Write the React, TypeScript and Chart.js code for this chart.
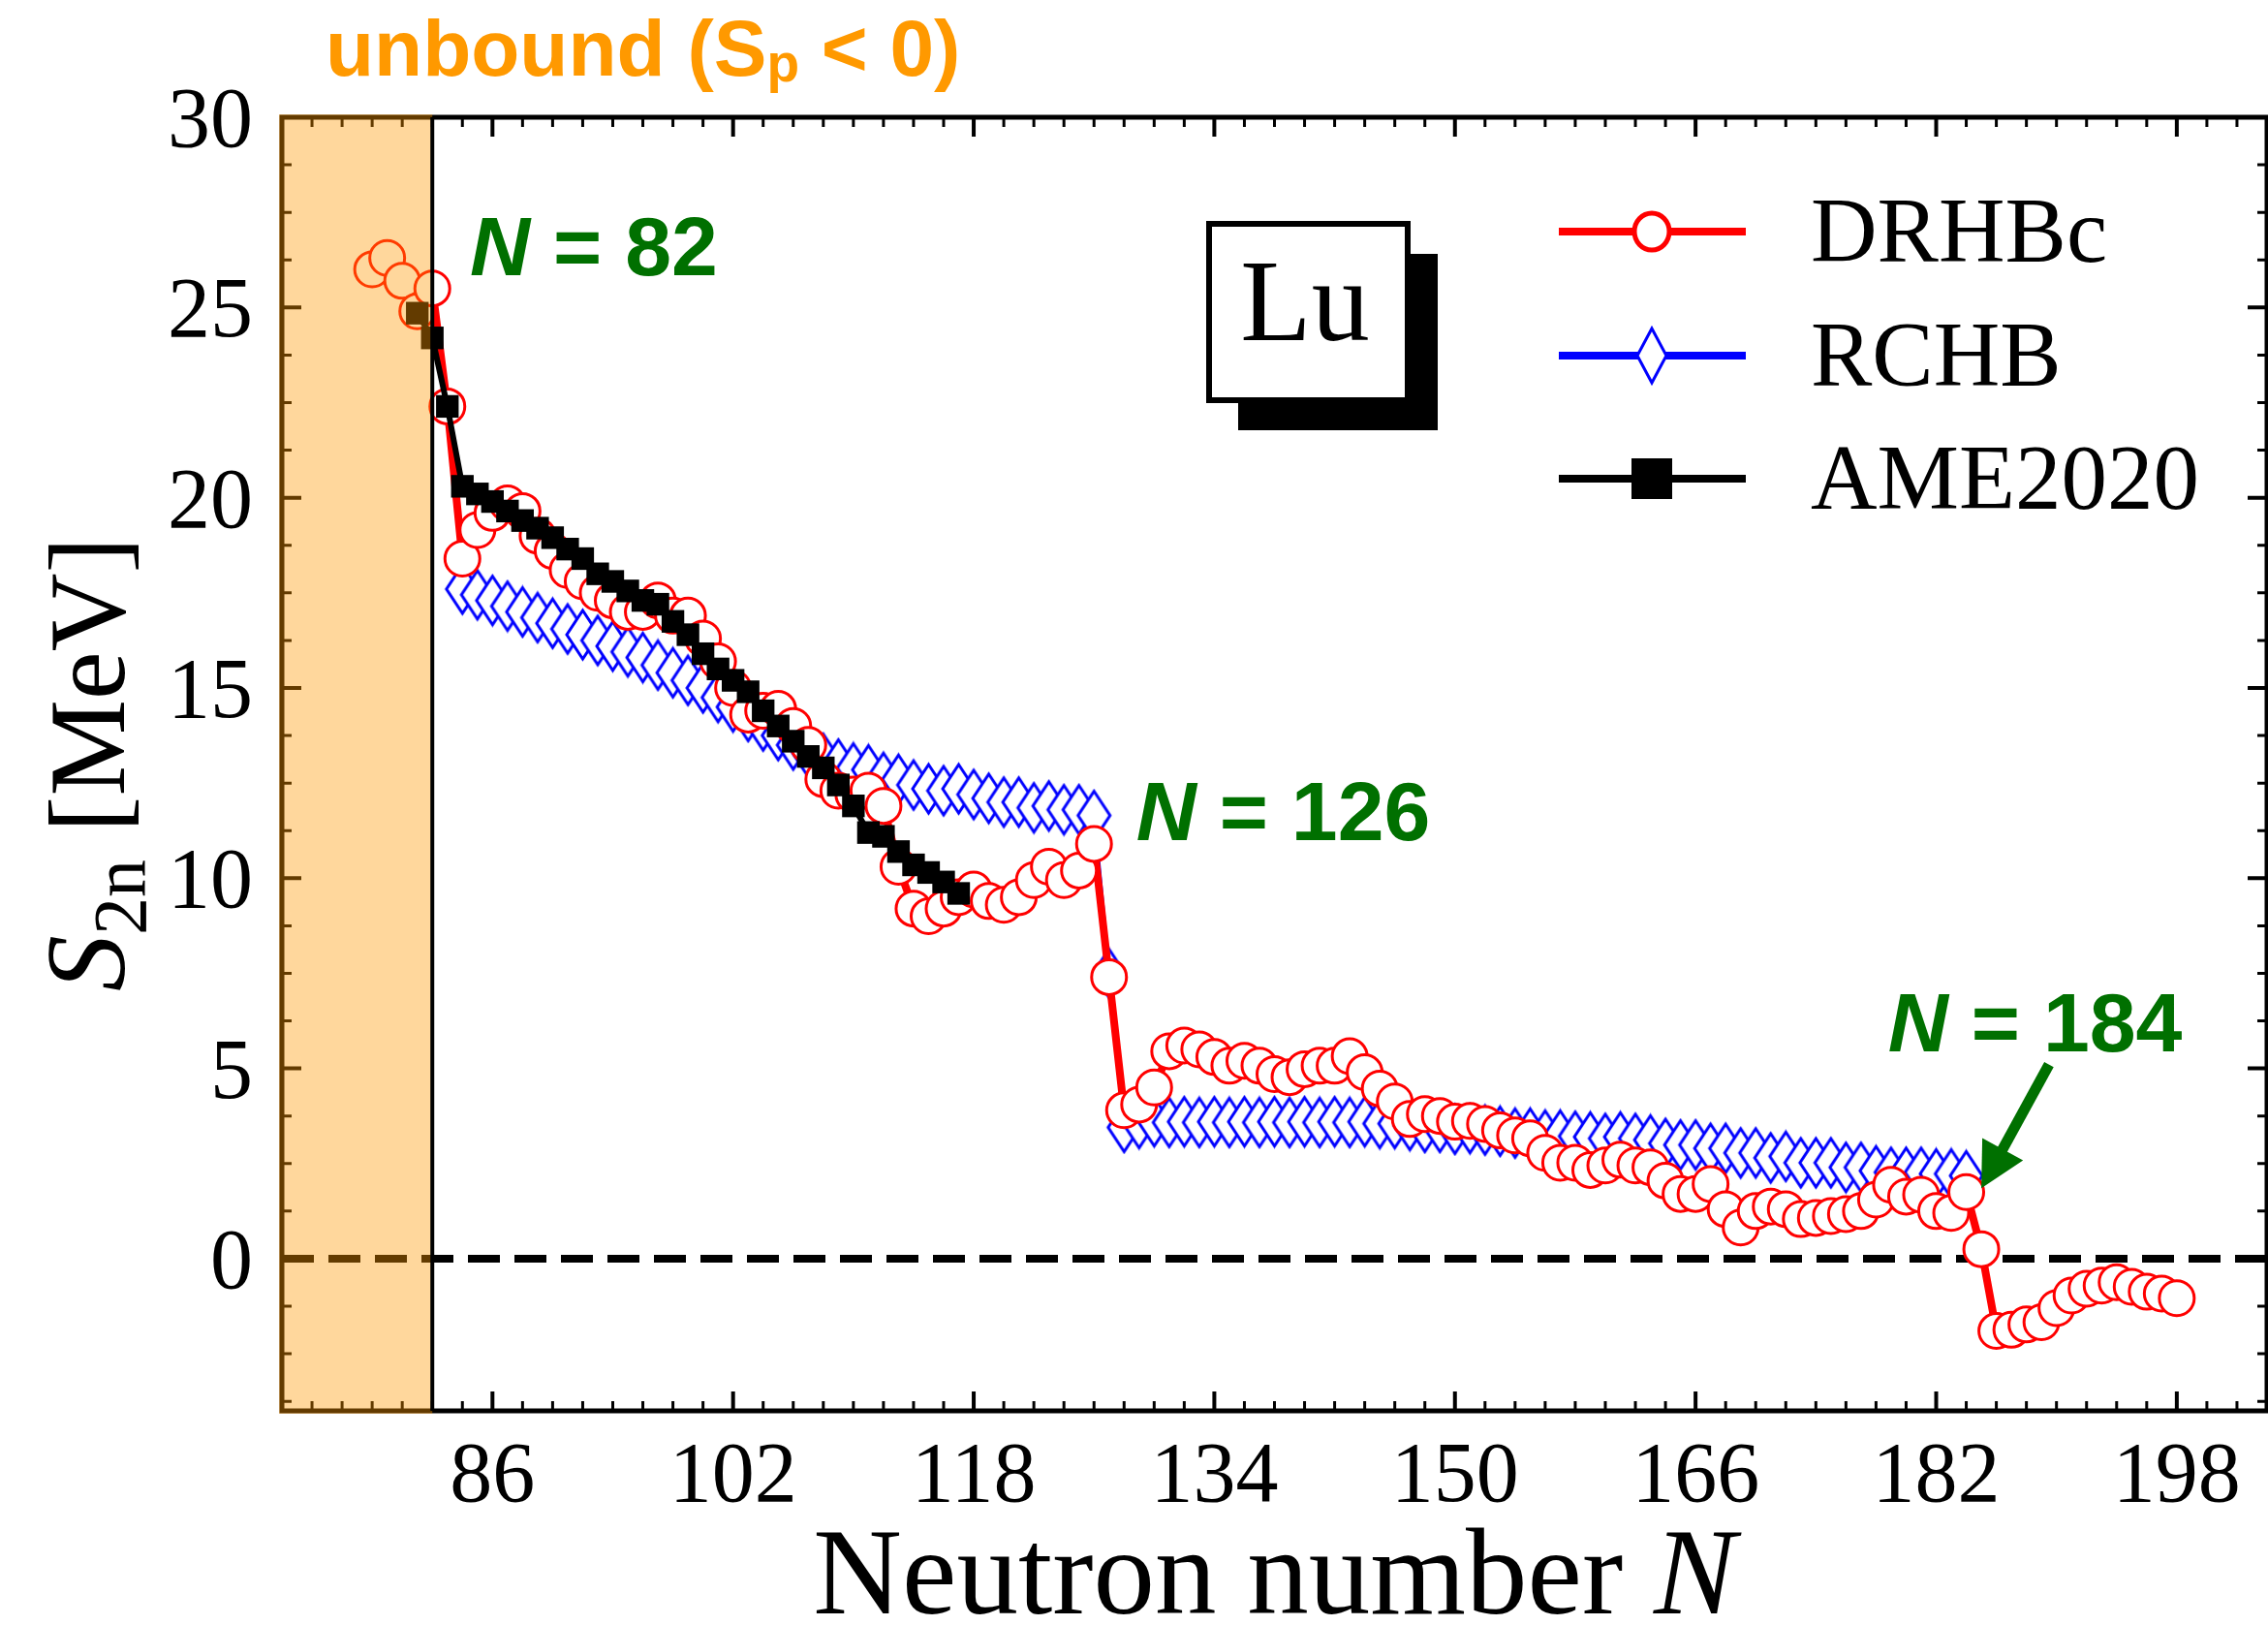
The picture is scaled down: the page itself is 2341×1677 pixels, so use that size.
import React, { useEffect, useRef } from 'react';
import { Chart, registerables } from 'chart.js';

Chart.register(...registerables);

const W = 2341;
const H = 1677;

// ---------------- data ----------------
const drhbcN = [78, 79, 80, 81, 82, 83, 84, 85, 86, 87, 88, 89, 90, 91, 92, 93, 94, 95, 96, 97, 98, 99,
  100, 101, 102, 103, 104, 105, 106, 107, 108, 109, 110, 111, 112, 113, 114, 115, 116, 117, 118, 119,
  120, 121, 122, 123, 124, 125, 126, 127, 128, 129, 130, 131, 132, 133, 134, 135, 136, 137, 138, 139,
  140, 141, 142, 143, 144, 145, 146, 147, 148, 149, 150, 151, 152, 153, 154, 155, 156, 157, 158, 159,
  160, 161, 162, 163, 164, 165, 166, 167, 168, 169, 170, 171, 172, 173, 174, 175, 176, 177, 178, 179,
  180, 181, 182, 183, 184, 185, 186, 187, 188, 189, 190, 191, 192, 193, 194, 195, 196, 197, 198];
const drhbcS = [26.0, 26.3, 25.7, 24.9, 25.5, 22.4, 18.4, 19.15, 19.6, 19.85, 19.65, 19.0, 18.6, 18.1, 17.8, 17.5, 17.3, 17.0, 17.0, 17.3, 16.9, 16.9,
  16.3, 15.7, 15.0, 14.3, 14.4, 14.45, 14.0, 13.5, 12.6, 12.3, 12.2, 12.3, 11.9, 10.3, 9.2, 9.0, 9.2, 9.5, 9.7, 9.4,
  9.3, 9.5, 9.95, 10.3, 9.95, 10.2, 10.9, 7.4, 3.9, 4.05, 4.5, 5.45, 5.6, 5.5, 5.3, 5.07, 5.2, 5.07, 4.85, 4.77,
  4.98, 5.07, 5.07, 5.32, 4.9, 4.47, 4.13, 3.67, 3.8, 3.75, 3.6, 3.62, 3.54, 3.37, 3.24, 3.16, 2.78, 2.52, 2.52, 2.33,
  2.45, 2.6, 2.45, 2.4, 2.05, 1.7, 1.7, 1.96, 1.3, 0.82, 1.25, 1.37, 1.3, 1.04, 1.07, 1.12, 1.17, 1.25, 1.55, 1.94,
  1.63, 1.68, 1.25, 1.2, 1.75, 0.25, -1.9, -1.87, -1.73, -1.67, -1.3, -0.97, -0.79, -0.71, -0.62, -0.74, -0.87, -0.92, -1.04];

const rchbN = [84, 85, 86, 87, 88, 89, 90, 91, 92, 93, 94, 95, 96, 97, 98, 99,
  100, 101, 102, 103, 104, 105, 106, 107, 108, 109, 110, 111, 112, 113, 114, 115, 116, 117, 118, 119,
  120, 121, 122, 123, 124, 125, 126, 127, 128, 129, 130, 131, 132, 133, 134, 135, 136, 137, 138, 139,
  140, 141, 142, 143, 144, 145, 146, 147, 148, 149, 150, 151, 152, 153, 154, 155, 156, 157, 158, 159,
  160, 161, 162, 163, 164, 165, 166, 167, 168, 169, 170, 171, 172, 173, 174, 175, 176, 177, 178, 179,
  180, 181, 182, 183, 184];
const rchbS = [17.6, 17.45, 17.3, 17.15, 17.0, 16.85, 16.7, 16.55, 16.4, 16.25, 16.1, 15.95, 15.8, 15.6, 15.4, 15.2,
  15.0, 14.75, 14.5, 14.25, 14.0, 13.75, 13.5, 13.3, 13.15, 13.0, 12.9, 12.85, 12.65, 12.6, 12.45, 12.35, 12.3, 12.35, 12.2, 12.1,
  12.0, 12.0, 11.85, 11.9, 11.8, 11.8, 11.65, 7.5, 3.45, 3.55, 3.6, 3.58, 3.6, 3.58, 3.6, 3.58, 3.6, 3.58, 3.6, 3.58,
  3.6, 3.58, 3.6, 3.58, 3.6, 3.55, 3.55, 3.5, 3.45, 3.45, 3.4, 3.42, 3.38, 3.35, 3.3, 3.3, 3.25, 3.25, 3.22, 3.2,
  3.16, 3.2, 3.16, 3.12, 3.03, 2.99, 2.99, 2.9, 2.9, 2.78, 2.78, 2.65, 2.69, 2.52, 2.52, 2.52, 2.4, 2.4, 2.31, 2.27,
  2.27, 2.27, 2.23, 2.23, 2.18];

const ameN = [81, 82, 83, 84, 85, 86, 87, 88, 89, 90, 91, 92, 93, 94, 95, 96, 97, 98, 99,
  100, 101, 102, 103, 104, 105, 106, 107, 108, 109, 110, 111, 112, 113, 114, 115, 116, 117];
const ameS = [24.85, 24.2, 22.4, 20.3, 20.1, 19.9, 19.65, 19.4, 19.2, 18.95, 18.65, 18.4, 18.0, 17.8, 17.55, 17.3, 17.2, 16.75, 16.4,
  15.9, 15.5, 15.2, 14.9, 14.4, 14.0, 13.6, 13.2, 12.9, 12.45, 11.9, 11.2, 11.1, 10.7, 10.35, 10.15, 9.9, 9.6];

const xTickLabels = [86, 102, 118, 134, 150, 166, 182, 198];
const yTickLabels = [0, 5, 10, 15, 20, 25, 30];
const seriesNames = ['DRHBc', 'RCHB', 'AME2020'];
const magicNumbers = [82, 126, 184];

const X_MIN = 72, X_MAX = 204, Y_MIN = -4, Y_MAX = 30;
const UNBOUND_EDGE = 82;

const SERIF = '"Liberation Serif", "Times New Roman", serif';
const SANS = '"Liberation Sans", Arial, sans-serif';
const GREEN = 'rgb(0,112,0)';
const ORANGE = '#ff9900';

function makeDiamond(w: number, h: number, lw: number, color: string) {
  const c = document.createElement('canvas');
  c.width = Math.ceil(w + lw * 2);
  c.height = Math.ceil(h + lw * 2);
  const g = c.getContext('2d')!;
  const cx = c.width / 2, cy = c.height / 2;
  g.beginPath();
  g.moveTo(cx, cy - h / 2);
  g.lineTo(cx + w / 2, cy);
  g.lineTo(cx, cy + h / 2);
  g.lineTo(cx - w / 2, cy);
  g.closePath();
  g.fillStyle = '#fff';
  g.fill();
  g.lineWidth = lw;
  g.strokeStyle = color;
  g.lineJoin = 'miter';
  g.stroke();
  return c;
}

const decorPlugin = {
  id: 'decor',
  beforeDatasetsDraw(chart: any) {
    const { ctx, chartArea: a, scales } = chart;
    const x = scales.x, y = scales.y;
    ctx.save();
    // zero line
    const y0 = y.getPixelForValue(0);
    ctx.strokeStyle = '#000';
    ctx.lineWidth = 8;
    ctx.setLineDash([33, 15]);
    ctx.beginPath();
    ctx.moveTo(a.left, y0);
    ctx.lineTo(a.right, y0);
    ctx.stroke();
    ctx.setLineDash([]);
    // x ticks (inward, top and bottom)
    for (let v = X_MIN; v <= X_MAX; v += 2) {
      const px = x.getPixelForValue(v);
      const major = (v - 86) % 16 === 0;
      const len = major ? 20 : 10;
      ctx.lineWidth = major ? 4 : 3;
      ctx.beginPath();
      ctx.moveTo(px, a.bottom);
      ctx.lineTo(px, a.bottom - len);
      ctx.moveTo(px, a.top);
      ctx.lineTo(px, a.top + len);
      ctx.stroke();
    }
    // y ticks (inward, left and right)
    for (let k = -3; k <= 24; k++) {
      const v = k * 1.25;
      const py = y.getPixelForValue(v);
      const major = k % 4 === 0;
      const len = major ? 20 : 10;
      ctx.lineWidth = major ? 4 : 3;
      ctx.beginPath();
      ctx.moveTo(a.left, py);
      ctx.lineTo(a.left + len, py);
      ctx.moveTo(a.right, py);
      ctx.lineTo(a.right - len, py);
      ctx.stroke();
    }
    // frame
    ctx.lineWidth = 5;
    ctx.strokeRect(a.left, a.top, a.right - a.left, a.bottom - a.top);
    ctx.restore();
  },
  afterDatasetsDraw(chart: any) {
    const { ctx, chartArea: a, scales } = chart;
    const x = scales.x;
    ctx.save();
    const xe = x.getPixelForValue(UNBOUND_EDGE);
    ctx.fillStyle = 'rgba(255,153,0,0.39)';
    ctx.fillRect(a.left - 3, a.top - 3, xe - a.left + 3, a.bottom - a.top + 6);
    ctx.strokeStyle = '#000';
    ctx.lineWidth = 4;
    ctx.beginPath();
    ctx.moveTo(xe, a.top);
    ctx.lineTo(xe, a.bottom);
    ctx.stroke();
    ctx.restore();
  },
  afterDraw(chart: any) {
    const { ctx, chartArea: a, scales } = chart;
    const x = scales.x, y = scales.y;
    ctx.save();
    ctx.fillStyle = '#000';
    // tick labels
    ctx.font = `88px ${SERIF}`;
    ctx.textAlign = 'center';
    ctx.textBaseline = 'alphabetic';
    xTickLabels.forEach((v) => {
      ctx.fillText(String(v), x.getPixelForValue(v), a.bottom + 93);
    });
    ctx.textAlign = 'right';
    yTickLabels.forEach((v) => {
      ctx.fillText(String(v), a.left - 30, y.getPixelForValue(v) + 30);
    });

    // x title
    ctx.textAlign = 'left';
    const f1 = `127px ${SERIF}`;
    const f2 = `italic 127px ${SERIF}`;
    ctx.font = f1;
    const t1 = 'Neutron number ';
    const w1 = ctx.measureText(t1).width;
    ctx.font = f2;
    const w2 = ctx.measureText('N').width;
    const cx = (a.left + a.right) / 2;
    const sx = cx - (w1 + w2) / 2;
    ctx.font = f1;
    ctx.fillText(t1, sx, 1665);
    ctx.font = f2;
    ctx.fillText('N', sx + w1, 1665);

    // y title (rotated)
    ctx.save();
    const cy = (a.top + a.bottom) / 2;
    ctx.translate(128, cy);
    ctx.rotate(-Math.PI / 2);
    const fS = `italic 116px ${SERIF}`;
    const fSub = `78px ${SERIF}`;
    const fM = `112px ${SERIF}`;
    ctx.font = fS; const wS = ctx.measureText('S').width;
    ctx.font = fSub; const wSub = ctx.measureText('2n').width;
    ctx.font = fM; const wM = ctx.measureText(' [MeV]').width;
    const tot = wS + wSub + wM;
    let px = -tot / 2;
    ctx.font = fS; ctx.fillText('S', px, 0); px += wS;
    ctx.font = fSub; ctx.fillText('2n', px, 22); px += wSub;
    ctx.font = fM; ctx.fillText(' [MeV]', px, 0);
    ctx.restore();

    // unbound label
    ctx.fillStyle = ORANGE;
    ctx.font = `bold 82px ${SANS}`;
    let ux = 336;
    const ub1 = 'unbound (S';
    ctx.fillText(ub1, ux, 78);
    ux += ctx.measureText(ub1).width;
    ctx.font = `bold 55px ${SANS}`;
    ctx.fillText('p', ux, 84);
    ux += ctx.measureText('p').width;
    ctx.font = `bold 82px ${SANS}`;
    ctx.fillText(' < 0)', ux, 78);

    // magic number labels
    const magicPos = [
      { n: magicNumbers[0], x: 84.5, y: 25.85 },
      { n: magicNumbers[1], x: 128.8, y: 11.0 },
      { n: magicNumbers[2], x: 178.8, y: 5.45 },
    ];
    ctx.fillStyle = GREEN;
    magicPos.forEach((m) => {
      let mx = x.getPixelForValue(m.x);
      const my = y.getPixelForValue(m.y);
      ctx.font = `italic bold 86px ${SANS}`;
      ctx.fillText('N', mx, my);
      mx += ctx.measureText('N').width;
      ctx.font = `bold 86px ${SANS}`;
      ctx.fillText(` = ${m.n}`, mx, my);
    });

    // arrow to N = 184
    const tx = x.getPixelForValue(185.0), ty = y.getPixelForValue(1.85);
    const fx = x.getPixelForValue(189.5), fy = y.getPixelForValue(5.1);
    const ang = Math.atan2(ty - fy, tx - fx);
    const headLen = 46, headW = 24;
    const bx = tx - headLen * Math.cos(ang), by = ty - headLen * Math.sin(ang);
    ctx.strokeStyle = GREEN;
    ctx.lineWidth = 11;
    ctx.beginPath();
    ctx.moveTo(fx, fy);
    ctx.lineTo(bx + 4 * Math.cos(ang), by + 4 * Math.sin(ang));
    ctx.stroke();
    ctx.beginPath();
    ctx.moveTo(tx, ty);
    ctx.lineTo(bx + headW * Math.sin(ang), by - headW * Math.cos(ang));
    ctx.lineTo(bx - headW * Math.sin(ang), by + headW * Math.cos(ang));
    ctx.closePath();
    ctx.fill();

    // Lu box
    ctx.fillStyle = '#000';
    ctx.fillRect(1278, 262, 206, 182);
    ctx.fillStyle = '#fff';
    ctx.fillRect(1245, 228, 211, 188);
    ctx.strokeStyle = '#000';
    ctx.lineWidth = 6;
    ctx.strokeRect(1248, 231, 205, 182);
    ctx.fillStyle = '#000';
    ctx.font = `120px ${SERIF}`;
    ctx.textAlign = 'center';
    ctx.fillText('Lu', 1347, 351);

    // legend
    const rows = [239, 367, 494];
    const lx0 = 1609, lx1 = 1802, lmx = 1705;
    ctx.textAlign = 'left';
    ctx.font = `95px ${SERIF}`;
    const colors = ['#ff0000', '#0000ff', '#000000'];
    rows.forEach((ry, i) => {
      ctx.strokeStyle = colors[i];
      ctx.lineWidth = 8;
      ctx.beginPath();
      ctx.moveTo(lx0, ry);
      ctx.lineTo(lx1, ry);
      ctx.stroke();
      if (i === 0) {
        ctx.beginPath();
        ctx.ellipse(lmx, ry, 18, 19, 0, 0, Math.PI * 2);
        ctx.fillStyle = '#fff';
        ctx.fill();
        ctx.lineWidth = 5;
        ctx.stroke();
      } else if (i === 1) {
        ctx.beginPath();
        ctx.moveTo(lmx, ry - 28);
        ctx.lineTo(lmx + 15, ry);
        ctx.lineTo(lmx, ry + 28);
        ctx.lineTo(lmx - 15, ry);
        ctx.closePath();
        ctx.fillStyle = '#fff';
        ctx.fill();
        ctx.lineWidth = 3;
        ctx.stroke();
      } else {
        ctx.fillStyle = '#000';
        ctx.fillRect(lmx - 21, ry - 21, 42, 42);
      }
      ctx.fillStyle = '#000';
      ctx.fillText(seriesNames[i], 1869, ry + 31);
    });
    ctx.restore();
  },
};

export default function App() {
  const ref = useRef<HTMLCanvasElement>(null);
  useEffect(() => {
    document.body.style.margin = '0';
    document.body.style.overflow = 'hidden';
    const canvas = ref.current!;
    const diamond = makeDiamond(33, 50, 3, '#0000ff');
    const chart = new Chart(canvas, {
      type: 'line',
      data: {
        datasets: [
          {
            label: seriesNames[2],
            data: ameN.map((n, i) => ({ x: n, y: ameS[i] })),
            borderColor: '#000',
            borderWidth: 6,
            pointStyle: 'rect',
            pointRadius: 16.5,
            pointBackgroundColor: '#000',
            pointBorderColor: '#000',
            pointBorderWidth: 0,
            order: 0,
            clip: false,
          },
          {
            label: seriesNames[0],
            data: drhbcN.map((n, i) => ({ x: n, y: drhbcS[i] })),
            borderColor: '#ff0000',
            borderWidth: 8,
            pointStyle: 'circle',
            pointRadius: 18,
            pointBackgroundColor: '#fff',
            pointBorderColor: '#ff0000',
            pointBorderWidth: 3,
            order: 1,
            clip: false,
          },
          {
            label: seriesNames[1],
            data: rchbN.map((n, i) => ({ x: n, y: rchbS[i] })),
            borderColor: '#0000ff',
            borderWidth: 4,
            pointStyle: diamond as any,
            pointRadius: 25,
            order: 2,
            clip: false,
          },
        ] as any,
      },
      options: {
        responsive: false,
        animation: false,
        devicePixelRatio: 1,
        events: [],
        layout: { autoPadding: false, padding: { left: 291, top: 121, right: 1, bottom: 221 } },
        plugins: { legend: { display: false }, tooltip: { enabled: false } },
        scales: {
          x: { type: 'linear', min: X_MIN, max: X_MAX, display: false },
          y: { type: 'linear', min: Y_MIN, max: Y_MAX, display: false },
        },
      } as any,
      plugins: [decorPlugin as any],
    });
    return () => chart.destroy();
  }, []);
  return (
    <div style={{ width: W, height: H, overflow: 'hidden' }}>
      <canvas ref={ref} width={W} height={H} style={{ display: 'block', width: W, height: H }} />
    </div>
  );
}
